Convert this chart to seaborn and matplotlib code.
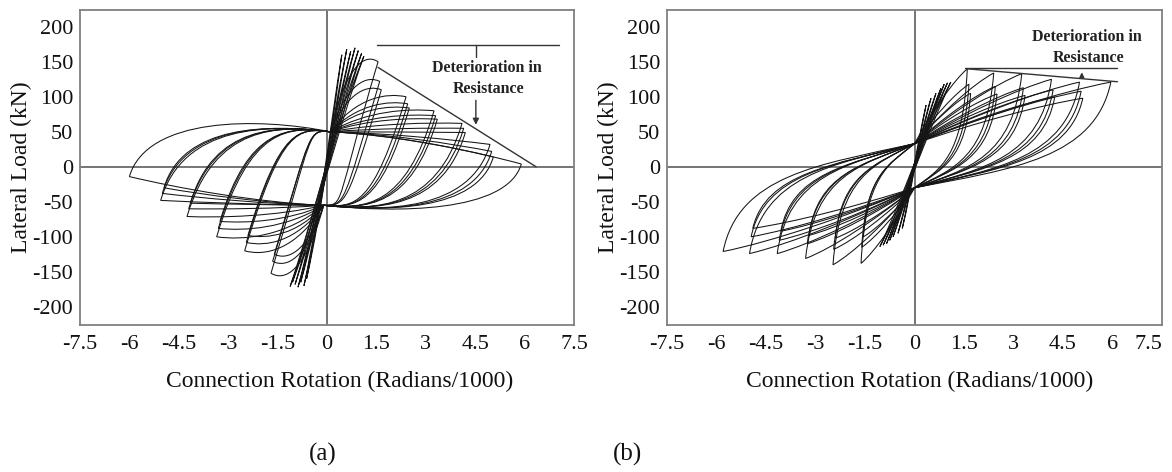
import matplotlib
matplotlib.use("Agg")
import matplotlib.pyplot as plt
from matplotlib.path import Path
from matplotlib.patches import PathPatch
import seaborn as sns

# ---------------- axis ticks ----------------
x_ticks = [-7.5, -6, -4.5, -3, -1.5, 0, 1.5, 3, 4.5, 6, 7.5]
x_tick_labels = ["-7.5", "-6", "-4.5", "-3", "-1.5", "0", "1.5", "3", "4.5", "6", "7.5"]
y_ticks = [-200, -150, -100, -50, 0, 50, 100, 150, 200]
y_tick_labels = ["-200", "-150", "-100", "-50", "0", "50", "100", "150", "200"]

# ---------------- specimen (a) ----------------
# small elastic cycles
a_el_pos_rot = [0.45, 0.6, 0.72, 0.85, 0.95, 1.05, 1.12]
a_el_pos_load = [160, 168, 165, 170, 166, 162, 158]
a_el_neg_rot = [-0.62, -0.7, -0.8, -0.88, -0.97, -1.05, -1.12]
a_el_neg_load = [-160, -170, -165, -172, -168, -165, -171]
# large cycles: peaks and the plateau loads reached after each reversal
a_pos_rot = [1.55, 1.6, 1.65, 2.4, 2.45, 2.5, 3.25, 3.3, 3.35, 4.1, 4.15, 4.2, 4.95, 5.0, 5.05, 5.9]
a_pos_load = [150, 122, 110, 100, 90, 84, 80, 73, 68, 62, 55, 49, 32, 22, 14, 4]
a_neg_rot = [-1.7, -1.65, -1.6, -2.5, -2.45, -2.4, -3.35, -3.3, -3.25, -4.25, -4.2, -4.15, -5.05, -5.0, -4.95, -6.0]
a_neg_load = [-152, -135, -125, -120, -108, -98, -100, -88, -78, -71, -60, -52, -48, -38, -30, -14]
a_floor = [-52, -52, -52, -55, -55, -55, -57, -57, -57, -59, -59, -59, -61, -61, -61, -63]
a_ceil = [50, 50, 50, 53, 53, 53, 55, 55, 55, 57, 57, 57, 58, 58, 58, 68]
a_pinch_up = (0.1, 50)
a_pinch_down = (-0.1, -55)
# annotation lines
a_cap_rot = [1.52, 7.05]
a_cap_load = [174, 174]
a_env_rot = [1.55, 6.35]
a_env_load = [142, 0]
a_tick_rot = [4.52, 4.52]
a_tick_load = [174, 157]

# ---------------- specimen (b) ----------------
b_el_pos_rot = [0.35, 0.5, 0.65, 0.8, 0.9, 1.0, 1.1]
b_el_pos_load = [88, 98, 105, 112, 118, 120, 121]
b_el_neg_rot = [-0.37, -0.5, -0.65, -0.75, -0.85, -0.95, -1.05]
b_el_neg_load = [-88, -95, -100, -105, -110, -112, -114]
b_pos_rot = [1.6, 1.65, 1.7, 2.4, 2.45, 2.5, 3.25, 3.3, 3.35, 4.15, 4.2, 4.25, 5.0, 5.05, 5.1, 5.95]
b_pos_load = [140, 118, 105, 134, 115, 104, 133, 113, 102, 125, 110, 100, 121, 108, 98, 121]
b_neg_rot = [-1.62, -1.6, -1.55, -2.47, -2.45, -2.4, -3.3, -3.25, -3.2, -4.16, -4.1, -4.05, -5.0, -4.95, -4.9, -5.8]
b_neg_load = [-138, -115, -100, -140, -118, -102, -131, -110, -98, -124, -105, -92, -124, -100, -88, -121]
b_pinch_up = (0.0, 33)
b_pinch_down = (0.0, -30)
b_cap_rot = [1.53, 6.15]
b_cap_load = [140.5, 140.5]
b_env_rot = [1.6, 6.15]
b_env_load = [140, 121.5]

LOOP_COLOR = "#151515"
SPINE_COLOR = "#808080"


def bez(verts, codes, p1, p2, p3):
    verts.extend([p1, p2, p3])
    codes.extend([Path.CURVE4] * 3)


def elastic_path(xp, yp, xn, yn):
    verts = [(xn, yn)]
    codes = [Path.MOVETO]
    bez(verts, codes, (xn * 0.2, yn * 0.35), (xp * 0.25, yp * 0.3), (xp, yp))
    bez(verts, codes, (xp * 0.2, yp * 0.35), (xn * 0.25, yn * 0.3), (xn, yn))
    return Path(verts, codes)


def pinched_path(xp, yp, xn, yn, floor, ceil, up, down):
    x0, y0 = up
    x1, y1 = down
    verts = [(x0, y0)]
    codes = [Path.MOVETO]
    # reloading towards the positive peak
    if yp > y0:
        c1, c2 = y0 + (yp - y0), yp + 0.12 * (yp - y0)
    else:
        c1, c2 = y0 + 0.1 * (yp - y0), y0 + 0.6 * (yp - y0)
    bez(verts, codes, (x0 + 0.35 * (xp - x0), c1), (x0 + 0.75 * (xp - x0), c2), (xp, yp))
    # unloading onto the lower plateau
    dx = 0.9 * (yp - floor) / 140
    bez(verts, codes, (xp - dx, floor * 1.05), (xp * 0.35, floor - 3), (x1, y1))
    # loading towards the negative peak
    if yn < y1:
        c1, c2 = y1 + (yn - y1), yn + 0.12 * (yn - y1)
    else:
        c1, c2 = y1 + 0.1 * (yn - y1), y1 + 0.6 * (yn - y1)
    bez(verts, codes, (x1 + 0.35 * (xn - x1), c1), (x1 + 0.75 * (xn - x1), c2), (xn, yn))
    # unloading onto the upper plateau
    dx = 0.9 * (ceil - yn) / 140
    bez(verts, codes, (xn + dx, ceil * 1.05), (xn * 0.35, ceil + 3), (x0, y0))
    return Path(verts, codes)


def slip_path(xp, yp, xn, yn, up, down):
    x0, y0 = up
    x1, y1 = down
    verts = [(x0, y0)]
    codes = [Path.MOVETO]
    bez(verts, codes, (x0 + 0.35 * (xp - x0), y0 + 0.45 * (yp - y0)),
        (x0 + 0.75 * (xp - x0), y0 + 0.85 * (yp - y0)), (xp, yp))
    bez(verts, codes, (0.92 * xp, 0.1 * yp), (0.5 * xp, -3), (x1, y1))
    bez(verts, codes, (x1 + 0.35 * (xn - x1), y1 + 0.45 * (yn - y1)),
        (x1 + 0.75 * (xn - x1), y1 + 0.85 * (yn - y1)), (xn, yn))
    bez(verts, codes, (0.92 * xn, 0.1 * yn), (0.5 * xn, 3), (x0, y0))
    return Path(verts, codes)


def add_path(ax, path):
    ax.add_patch(PathPatch(path, fill=False, edgecolor=LOOP_COLOR, lw=0.75))


def style_axes(ax):
    ax.set_xlim(-7.5, 7.5)
    ax.set_ylim(-226, 224)
    ax.set_xticks(x_ticks)
    ax.set_xticklabels(x_tick_labels)
    ax.set_yticks(y_ticks)
    ax.set_yticklabels(y_tick_labels)
    ax.tick_params(axis="x", direction="in", length=3, width=1, color=SPINE_COLOR,
                   pad=7, labelsize=16, labelcolor="#111")
    ax.tick_params(axis="y", direction="out", length=3, width=1, color=SPINE_COLOR,
                   pad=2, labelsize=16, labelcolor="#111")
    for sp in ax.spines.values():
        sp.set_visible(True)
        sp.set_color(SPINE_COLOR)
        sp.set_linewidth(1.3)
    ax.axhline(0, color="#505050", lw=1.1, zorder=0)
    ax.axvline(0, color="#505050", lw=1.1, zorder=0)
    ax.set_xlabel("")
    ax.set_ylabel("")


sns.set_theme(style="white")
plt.rcParams["font.family"] = ["Liberation Serif", "DejaVu Serif"]

fig = plt.figure(figsize=(11.72, 4.72), dpi=100)
ax_a = fig.add_axes([80 / 1172, 1 - 325 / 472, 494 / 1172, 315 / 472])
ax_b = fig.add_axes([667 / 1172, 1 - 325 / 472, 495 / 1172, 315 / 472])

# ---- panel (a) ----
style_axes(ax_a)
for xp, yp, xn, yn in zip(a_el_pos_rot, a_el_pos_load, a_el_neg_rot, a_el_neg_load):
    add_path(ax_a, elastic_path(xp, yp, xn, yn))
for xp, yp, xn, yn, fl, ce in zip(a_pos_rot, a_pos_load, a_neg_rot, a_neg_load, a_floor, a_ceil):
    add_path(ax_a, pinched_path(xp, yp, xn, yn, fl, ce, a_pinch_up, a_pinch_down))

for xs, ys in [(a_cap_rot, a_cap_load), (a_env_rot, a_env_load), (a_tick_rot, a_tick_load)]:
    sns.lineplot(x=xs, y=ys, ax=ax_a, color="#333333", lw=1.0, sort=False,
                 estimator=None, legend=False)
ax_a.annotate("", xy=(4.52, 56), xytext=(4.52, 99),
              arrowprops=dict(arrowstyle="-|>", color="#333333", lw=1.0, mutation_scale=9))
ax_a.text(4.85, 141, "Deterioration in", ha="center", va="center", fontsize=11.5,
          fontweight="bold", color="#222")
ax_a.text(4.9, 110.5, "Resistance", ha="center", va="center", fontsize=11.5,
          fontweight="bold", color="#222")

# ---- panel (b) ----
style_axes(ax_b)
for xp, yp, xn, yn in zip(b_el_pos_rot, b_el_pos_load, b_el_neg_rot, b_el_neg_load):
    add_path(ax_b, elastic_path(xp, yp, xn, yn))
for xp, yp, xn, yn in zip(b_pos_rot, b_pos_load, b_neg_rot, b_neg_load):
    add_path(ax_b, slip_path(xp, yp, xn, yn, b_pinch_up, b_pinch_down))

for xs, ys in [(b_cap_rot, b_cap_load), (b_env_rot, b_env_load)]:
    sns.lineplot(x=xs, y=ys, ax=ax_b, color="#333333", lw=1.0, sort=False,
                 estimator=None, legend=False)
ax_b.annotate("", xy=(5.07, 139), xytext=(5.07, 126),
              arrowprops=dict(arrowstyle="-|>", color="#333333", lw=1.0, mutation_scale=7))
ax_b.text(5.22, 185.7, "Deterioration in", ha="center", va="center", fontsize=11.5,
          fontweight="bold", color="#222")
ax_b.text(5.26, 156, "Resistance", ha="center", va="center", fontsize=11.5,
          fontweight="bold", color="#222")
# keep the last rotation label inside the figure edge
ax_b.get_xticklabels()[-1].set_horizontalalignment("right")

# ---- axis titles and panel letters ----
for xc in (340 / 1172, 920 / 1172):
    fig.text(xc, 1 - 381 / 472, "Connection Rotation (Radians/1000)", ha="center",
             va="center", fontsize=17, color="#111")
for xc in (21 / 1172, 608 / 1172):
    fig.text(xc, 1 - 167 / 472, "Lateral Load (kN)", ha="center", va="center",
             rotation=90, fontsize=17, color="#111")
fig.text(323 / 1172, 1 - 454 / 472, "(a)", ha="center", va="center", fontsize=18, color="#111")
fig.text(627 / 1172, 1 - 454 / 472, "(b)", ha="center", va="center", fontsize=18, color="#111")

fig.savefig("out.png", dpi=100, facecolor="white")
